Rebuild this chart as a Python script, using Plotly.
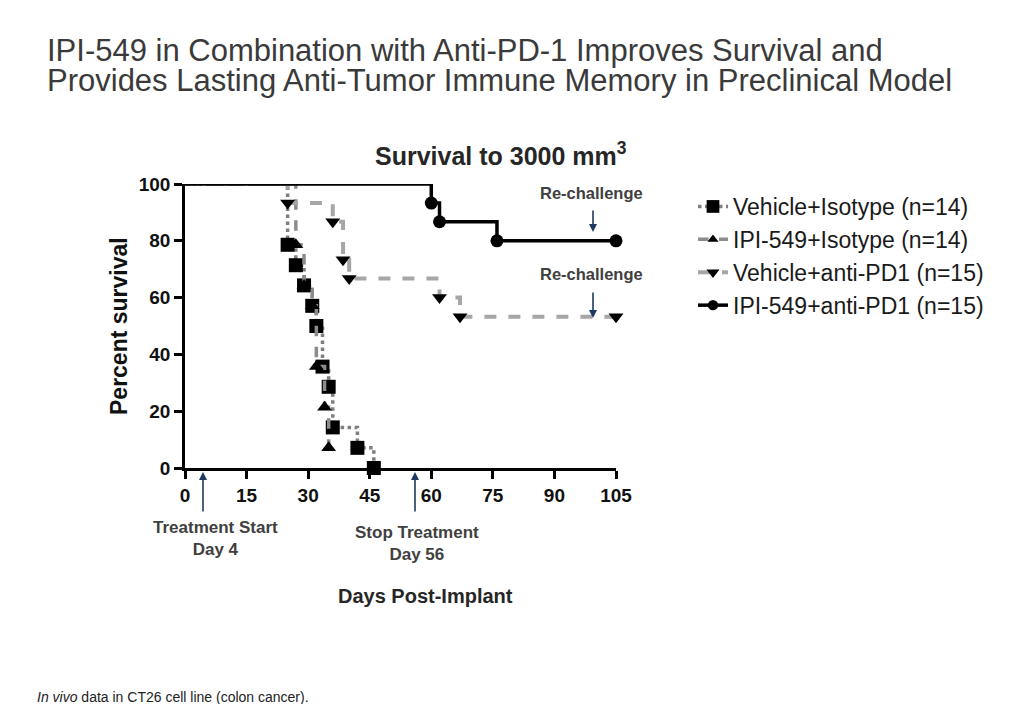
import plotly.graph_objects as go

# ---- data ----
days_vi = [0, 25, 27, 29, 31, 32, 33.5, 35, 36, 42, 46]
surv_vi = [100, 78.6, 71.4, 64.3, 57.1, 50, 35.7, 28.6, 14.3, 7.1, 0]

days_ii = [0, 27, 29, 31, 32, 34, 35, 36.5]
surv_ii = [100, 78.6, 64.3, 57.1, 35.7, 21.4, 7.1, 7.1]

days_vp = [0, 25, 36, 38.5, 40, 62, 67, 105]
surv_vp = [100, 93.3, 86.7, 73.3, 66.7, 60, 53.3, 53.3]

days_ip = [0, 60, 62, 76, 105]
surv_ip = [100, 93.3, 86.7, 80, 80]

names = ["Vehicle+Isotype (n=14)", "IPI-549+Isotype (n=14)",
         "Vehicle+anti-PD1 (n=15)", "IPI-549+anti-PD1 (n=15)"]
x_ticks = [0, 15, 30, 45, 60, 75, 90, 105]
y_ticks = [0, 20, 40, 60, 80, 100]

# ---- layout geometry (screen pixels; page body has an 8px margin) ----
OFF = 8
W, H = 1016 - OFF, 704 - OFF
L, R, T, B = 185, 616, 184, 468   # plot area on screen


def xp(px):
    return (px - L) / (R - L)


def yp(py):
    return (B - py) / (B - T)


fig = go.Figure()


def sizes(n, s, last_hidden=False):
    arr = [0] + [s] * (n - 1)
    if last_hidden:
        arr[-1] = 0
    return arr


def mk(symbol, n, s=13, last_hidden=False):
    return dict(symbol=symbol, color="#000000", size=sizes(n, s, last_hidden),
                opacity=1, line=dict(width=0))


fig.add_trace(go.Scatter(
    x=days_vi, y=surv_vi, name=names[0], mode="lines+markers",
    line=dict(shape="hv", color="#7f7f7f", width=3.5, dash="dot"),
    marker=mk("square", len(days_vi), 14), cliponaxis=False))
fig.add_trace(go.Scatter(
    x=days_ii, y=surv_ii, name=names[1], mode="lines+markers",
    line=dict(shape="hv", color="#8c8c8c", width=3.5, dash="dash"),
    marker=mk("triangle-up", len(days_ii), 13, True), cliponaxis=False))
fig.add_trace(go.Scatter(
    x=days_vp, y=surv_vp, name=names[2], mode="lines+markers",
    line=dict(shape="hv", color="#a6a6a6", width=4, dash="dash"),
    marker=mk("triangle-down", len(days_vp)), cliponaxis=False))
fig.add_trace(go.Scatter(
    x=days_ip, y=surv_ip, name=names[3], mode="lines+markers",
    line=dict(shape="hv", color="black", width=3.5),
    marker=mk("circle", len(days_ip)), cliponaxis=False))

font_family = "Liberation Sans, Arial, sans-serif"
ann = []


def text(px, py, t, size, bold=False, color="#333333", xanchor="center", angle=0):
    ann.append(dict(xref="paper", yref="paper", x=xp(px), y=yp(py),
                    text=t, showarrow=False,
                    xanchor=xanchor, yanchor="middle", textangle=angle,
                    font=dict(size=size, color=color, family=font_family,
                              weight=("bold" if bold else "normal"))))


# main title
text(45, 50, "IPI-549 in Combination with Anti-PD-1 Improves Survival and", 31, xanchor="left", color="#3a3a3a")
text(45, 81, "Provides Lasting Anti-Tumor Immune Memory in Preclinical Model", 31, xanchor="left", color="#3a3a3a")
# chart title
text(501, 154, "Survival to 3000 mm<sup>3</sup>", 25, bold=True, color="#262626")
# axis titles
text(119, 326, "Percent survival", 23, bold=True, color="#111111", angle=-90)
text(425, 596, "Days Post-Implant", 20, bold=True, color="#262626")
# annotations
text(591, 193, "Re-challenge", 16.5, bold=True, color="#404040")
text(591, 274, "Re-challenge", 16.5, bold=True, color="#404040")
text(215, 538, "Treatment Start<br>Day 4", 17, bold=True, color="#404040")
text(417, 543, "Stop Treatment<br>Day 56", 17, bold=True, color="#404040")
text(35, 697, "<i>In vivo</i> data in CT26 cell line (colon cancer).", 14, xanchor="left", color="#222222")

arrow_color = "#1f3a5f"


def arrow(px, py_head, py_tail):
    ann.append(dict(xref="paper", yref="paper", x=xp(px), y=yp(py_head),
                    axref="pixel", ayref="pixel", ax=0, ay=py_tail - py_head,
                    text="", showarrow=True, arrowhead=2, arrowsize=1,
                    arrowwidth=1.6, arrowcolor=arrow_color, standoff=0))


arrow(593, 232, 209)
arrow(593, 318, 291)
arrow(203, 472, 513)
arrow(415, 472, 513)

tickfont = dict(size=19, color="#111111", family=font_family, weight="bold")

fig.update_layout(
    width=W, height=H,
    margin=dict(l=L - OFF, r=W - (R - OFF), t=T - OFF, b=H - (B - OFF), pad=0),
    plot_bgcolor="white", paper_bgcolor="white",
    font=dict(family=font_family, color="#111111"),
    showlegend=True,
    legend=dict(x=xp(693), y=yp(185), xanchor="left", yanchor="top",
                font=dict(size=23, color="#1a1a1a", family=font_family),
                bgcolor="rgba(0,0,0,0)", tracegroupgap=0),
    annotations=ann,
    xaxis=dict(range=[0, 105], tickvals=x_ticks, ticks="outside", ticklen=8,
               tickwidth=2.5, tickcolor="black", showline=True, linewidth=2.5,
               linecolor="black", showgrid=False, zeroline=False, tickfont=tickfont),
    yaxis=dict(range=[0, 100], tickvals=y_ticks, ticks="outside", ticklen=8,
               tickwidth=2.5, tickcolor="black", showline=True, linewidth=2.5,
               linecolor="black", showgrid=False, zeroline=False, tickfont=tickfont),
)

fig.write_html("out.html")
